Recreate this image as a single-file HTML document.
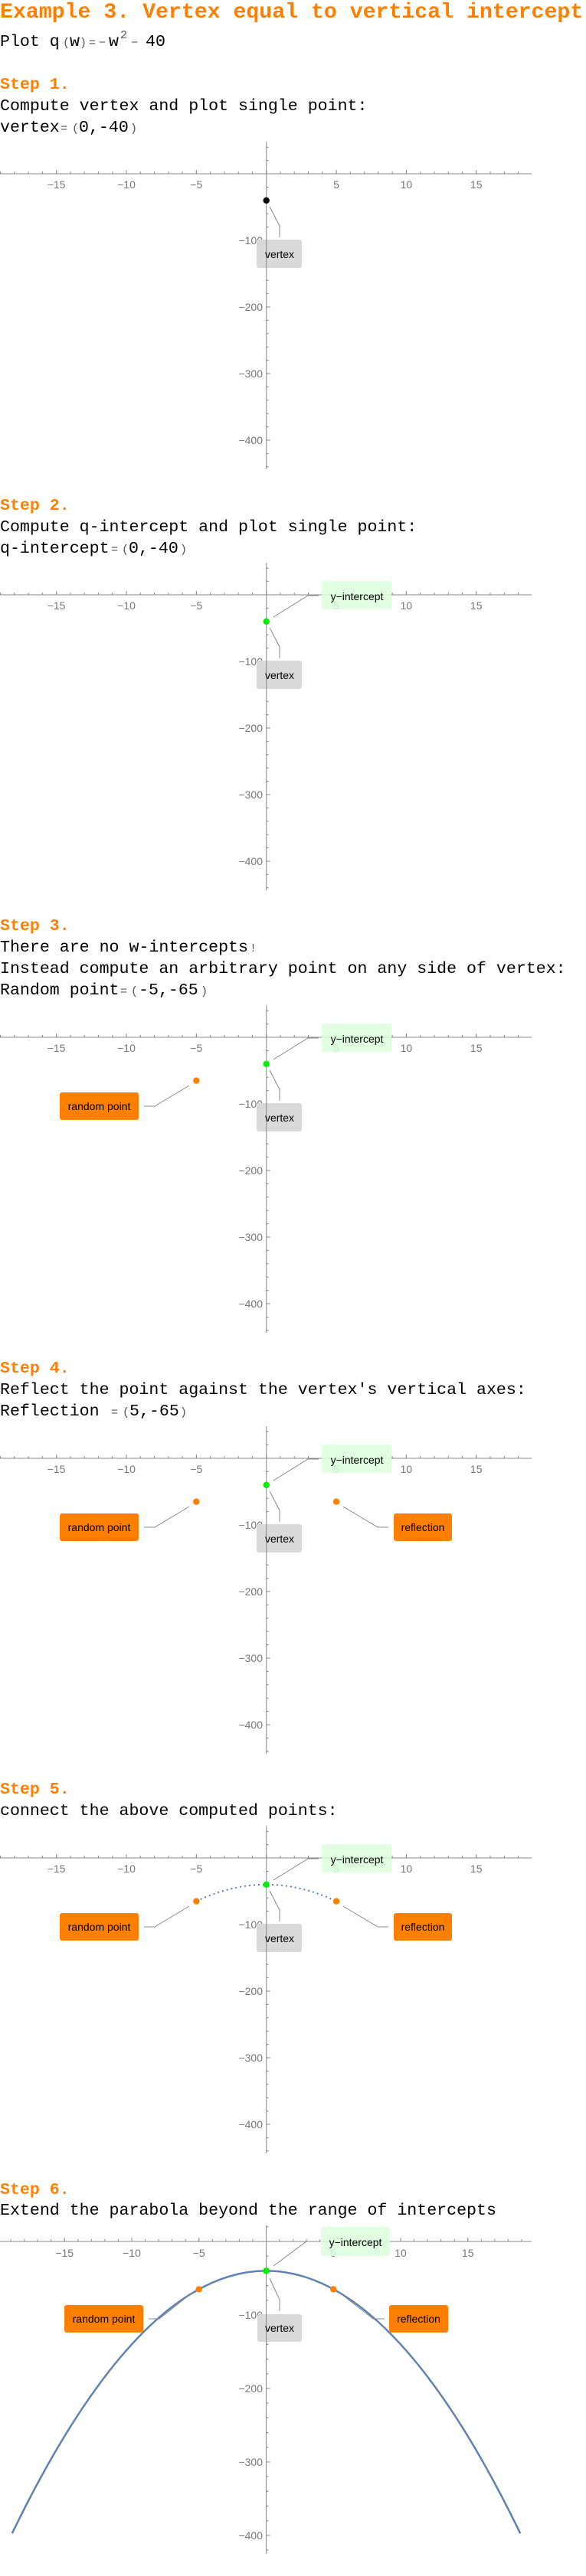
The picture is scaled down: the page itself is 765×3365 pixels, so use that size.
<!DOCTYPE html>
<html><head><meta charset="utf-8"><style>
html,body{margin:0;padding:0;background:#fff}
svg{display:block}
.t{font-family:"Liberation Mono",monospace;font-size:21.6px;fill:#000}
.h{font-family:"Liberation Mono",monospace;font-size:21.6px;font-weight:bold;fill:#ff7f00}
.s{font-size:15px;fill:#555}
.ax{stroke:#888;stroke-width:1;fill:none}
.tl{font-family:"Liberation Sans",sans-serif;font-size:14px;fill:#777}
.lb{font-family:"Liberation Sans",sans-serif;font-size:14px;fill:#000;text-anchor:middle}
.ld{stroke:#888;stroke-width:1;fill:none}
</style></head><body>
<svg width="765" height="3365" viewBox="0 0 765 3365" xmlns="http://www.w3.org/2000/svg">
<defs>
<g id="axes1">
<line class="ax" x1="0" y1="0" x2="694" y2="0"/>
<line x1="0.07" y1="-1.5" x2="694" y2="-1.5" stroke="#888" stroke-width="3" stroke-dasharray="1 17.27"/>
<line x1="73.15" y1="-2.5" x2="694" y2="-2.5" stroke="#888" stroke-width="5" stroke-dasharray="1 90.35"/>
<line class="ax" x1="347.7" y1="-42" x2="347.7" y2="386"/>
<line x1="349.2" y1="-35.3" x2="349.2" y2="386" stroke="#888" stroke-width="3" stroke-dasharray="1 16.4"/>
<line x1="350.2" y1="86.5" x2="350.2" y2="386" stroke="#888" stroke-width="5" stroke-dasharray="1 86"/>
</g>
</defs>

<text x="0" y="23" class="h" style="font-size:28.2px">Example 3. Vertex equal to vertical intercept</text>
<text y="60" class="t"><tspan x="0">Plot q</tspan><tspan x="82" class="s">(</tspan><tspan x="91">w</tspan><tspan x="104" class="s">)</tspan><tspan x="116" class="s">=</tspan><tspan x="129" class="s">−</tspan><tspan x="142">w</tspan><tspan x="157" y="50" class="s">2</tspan><tspan x="171" y="60" class="s">−</tspan><tspan x="190" y="60">40</tspan></text>

<!-- Step 1 -->
<text x="0" y="116" class="h">Step 1.</text>
<text x="0" y="144" class="t">Compute vertex and plot single point:</text>
<text y="172" class="t"><tspan x="0">vertex</tspan><tspan x="79" class="s">=</tspan><tspan x="94" class="s">(</tspan><tspan x="103">0,-40</tspan><tspan x="170" class="s">)</tspan></text>

<!-- Step 2 -->
<text x="0" y="666" class="h">Step 2.</text>
<text x="0" y="694" class="t">Compute q-intercept and plot single point:</text>
<text y="722" class="t"><tspan x="0">q-intercept</tspan><tspan x="145" class="s">=</tspan><tspan x="159" class="s">(</tspan><tspan x="168">0,-40</tspan><tspan x="235" class="s">)</tspan></text>

<!-- Step 3 -->
<text x="0" y="1215" class="h">Step 3.</text>
<text y="1243" class="t"><tspan x="0">There are no w-intercepts</tspan><tspan x="326" class="s">!</tspan></text>
<text x="0" y="1271" class="t">Instead compute an arbitrary point on any side of vertex:</text>
<text y="1299" class="t"><tspan x="0">Random point</tspan><tspan x="157" class="s">=</tspan><tspan x="171" class="s">(</tspan><tspan x="181">-5,-65</tspan><tspan x="262" class="s">)</tspan></text>

<!-- Step 4 -->
<text x="0" y="1793" class="h">Step 4.</text>
<text x="0" y="1821" class="t">Reflect the point against the vertex's vertical axes:</text>
<text y="1849" class="t"><tspan x="0">Reflection</tspan><tspan x="145" class="s">=</tspan><tspan x="160" class="s">(</tspan><tspan x="169">5,-65</tspan><tspan x="235" class="s">)</tspan></text>

<!-- Step 5 -->
<text x="0" y="2343" class="h">Step 5.</text>
<text x="0" y="2371" class="t">connect the above computed points:</text>

<!-- Step 6 -->
<text x="0" y="2866" class="h">Step 6.</text>
<text x="0" y="2893" class="t">Extend the parabola beyond the range of intercepts</text>

<!-- PLOT 1 -->
<g transform="translate(0,227)">
<use href="#axes1"/>
<text class="tl" text-anchor="middle" y="19"><tspan x="73.6">−15</tspan><tspan x="165">−10</tspan><tspan x="256.3">−5</tspan><tspan x="439">5</tspan><tspan x="530.4">10</tspan><tspan x="621.7">15</tspan></text>
<text class="tl" text-anchor="end" x="343" y="92">−100</text><text class="tl" text-anchor="end" x="343" y="179">−200</text><text class="tl" text-anchor="end" x="343" y="266">−300</text><text class="tl" text-anchor="end" x="343" y="353">−400</text>
<polyline class="ld" points="352,43 365,68 365,83"/>
<rect x="335" y="86" width="59" height="37" rx="3" fill="#d9d9d9"/>
<line class="ax" x1="347.7" y1="86" x2="347.7" y2="123"/>
<text class="lb" x="365" y="110">vertex</text>
<circle cx="347.7" cy="34.8" r="4.2" fill="#000"/>
</g>

<!-- PLOT 2 -->
<g transform="translate(0,777)">
<use href="#axes1"/>
<text class="tl" text-anchor="middle" y="19"><tspan x="73.6">−15</tspan><tspan x="165">−10</tspan><tspan x="256.3">−5</tspan><tspan x="439">5</tspan><tspan x="530.4">10</tspan><tspan x="621.7">15</tspan></text>
<text class="tl" text-anchor="end" x="343" y="92">−100</text><text class="tl" text-anchor="end" x="343" y="179">−200</text><text class="tl" text-anchor="end" x="343" y="266">−300</text><text class="tl" text-anchor="end" x="343" y="353">−400</text>
<polyline class="ld" points="357,29 402,1 416,1"/>
<rect x="420" y="-18" width="91" height="37" rx="3" fill="#dcffdc" fill-opacity="0.85"/>
<text class="lb" x="466" y="7">y−intercept</text>
<polyline class="ld" points="352,43 365,68 365,83"/>
<rect x="335" y="86" width="59" height="37" rx="3" fill="#d9d9d9"/>
<line class="ax" x1="347.7" y1="86" x2="347.7" y2="123"/>
<text class="lb" x="365" y="110">vertex</text>
<circle cx="347.7" cy="34.8" r="4.2" fill="#00ee00"/>
</g>

<!-- PLOT 3 -->
<g transform="translate(0,1355)">
<use href="#axes1"/>
<text class="tl" text-anchor="middle" y="19"><tspan x="73.6">−15</tspan><tspan x="165">−10</tspan><tspan x="256.3">−5</tspan><tspan x="439">5</tspan><tspan x="530.4">10</tspan><tspan x="621.7">15</tspan></text>
<text class="tl" text-anchor="end" x="343" y="92">−100</text><text class="tl" text-anchor="end" x="343" y="179">−200</text><text class="tl" text-anchor="end" x="343" y="266">−300</text><text class="tl" text-anchor="end" x="343" y="353">−400</text>
<polyline class="ld" points="357,29 402,1 416,1"/>
<rect x="420" y="-18" width="91" height="37" rx="3" fill="#dcffdc" fill-opacity="0.85"/>
<text class="lb" x="466" y="7">y−intercept</text>
<polyline class="ld" points="352,43 365,68 365,83"/>
<rect x="335" y="86" width="59" height="37" rx="3" fill="#d9d9d9"/>
<line class="ax" x1="347.7" y1="86" x2="347.7" y2="123"/>
<text class="lb" x="365" y="110">vertex</text>
<polyline class="ld" points="247,63 202,90 188,90"/>
<rect x="78" y="72" width="103" height="36" rx="3" fill="#ff7f00"/>
<text class="lb" x="129.5" y="95">random point</text>
<circle cx="347.7" cy="34.8" r="4.2" fill="#00ee00"/>
<circle cx="256.3" cy="56.6" r="4.2" fill="#ff7f00"/>
</g>

<!-- PLOT 4 -->
<g transform="translate(0,1905)">
<use href="#axes1"/>
<text class="tl" text-anchor="middle" y="19"><tspan x="73.6">−15</tspan><tspan x="165">−10</tspan><tspan x="256.3">−5</tspan><tspan x="439">5</tspan><tspan x="530.4">10</tspan><tspan x="621.7">15</tspan></text>
<text class="tl" text-anchor="end" x="343" y="92">−100</text><text class="tl" text-anchor="end" x="343" y="179">−200</text><text class="tl" text-anchor="end" x="343" y="266">−300</text><text class="tl" text-anchor="end" x="343" y="353">−400</text>
<polyline class="ld" points="357,29 402,1 416,1"/>
<rect x="420" y="-18" width="91" height="37" rx="3" fill="#dcffdc" fill-opacity="0.85"/>
<text class="lb" x="466" y="7">y−intercept</text>
<polyline class="ld" points="352,43 365,68 365,83"/>
<rect x="335" y="86" width="59" height="37" rx="3" fill="#d9d9d9"/>
<line class="ax" x1="347.7" y1="86" x2="347.7" y2="123"/>
<text class="lb" x="365" y="110">vertex</text>
<polyline class="ld" points="247,63 202,90 188,90"/>
<rect x="78" y="72" width="103" height="36" rx="3" fill="#ff7f00"/>
<text class="lb" x="129.5" y="95">random point</text>
<polyline class="ld" points="448,63 493,90 507,90"/>
<rect x="514" y="72" width="76" height="36" rx="3" fill="#ff7f00"/>
<text class="lb" x="552" y="95">reflection</text>
<circle cx="347.7" cy="34.8" r="4.2" fill="#00ee00"/>
<circle cx="256.3" cy="56.6" r="4.2" fill="#ff7f00"/>
<circle cx="439" cy="56.6" r="4.2" fill="#ff7f00"/>
</g>

<!-- PLOT 5 -->
<g transform="translate(0,2427)">
<use href="#axes1"/>
<text class="tl" text-anchor="middle" y="19"><tspan x="73.6">−15</tspan><tspan x="165">−10</tspan><tspan x="256.3">−5</tspan><tspan x="439">5</tspan><tspan x="530.4">10</tspan><tspan x="621.7">15</tspan></text>
<text class="tl" text-anchor="end" x="343" y="92">−100</text><text class="tl" text-anchor="end" x="343" y="179">−200</text><text class="tl" text-anchor="end" x="343" y="266">−300</text><text class="tl" text-anchor="end" x="343" y="353">−400</text>
<path d="M256.3 56.6 Q347.7 13 439 56.6" fill="none" stroke="#5b7fbf" stroke-width="2" stroke-dasharray="2 4"/>
<polyline class="ld" points="357,29 402,1 416,1"/>
<rect x="420" y="-18" width="91" height="37" rx="3" fill="#dcffdc" fill-opacity="0.85"/>
<text class="lb" x="466" y="7">y−intercept</text>
<polyline class="ld" points="352,43 365,68 365,83"/>
<rect x="335" y="86" width="59" height="37" rx="3" fill="#d9d9d9"/>
<line class="ax" x1="347.7" y1="86" x2="347.7" y2="123"/>
<text class="lb" x="365" y="110">vertex</text>
<polyline class="ld" points="247,63 202,90 188,90"/>
<rect x="78" y="72" width="103" height="36" rx="3" fill="#ff7f00"/>
<text class="lb" x="129.5" y="95">random point</text>
<polyline class="ld" points="448,63 493,90 507,90"/>
<rect x="514" y="72" width="76" height="36" rx="3" fill="#ff7f00"/>
<text class="lb" x="552" y="95">reflection</text>
<circle cx="347.7" cy="34.8" r="4.2" fill="#00ee00"/>
<circle cx="256.3" cy="56.6" r="4.2" fill="#ff7f00"/>
<circle cx="439" cy="56.6" r="4.2" fill="#ff7f00"/>
</g>

<!-- PLOT 6 -->
<g transform="translate(0,2928)">
<line class="ax" x1="0" y1="0" x2="694" y2="0"/>
<line x1="13.55" y1="-1.5" x2="694" y2="-1.5" stroke="#888" stroke-width="3" stroke-dasharray="1 16.55"/>
<line x1="83.75" y1="-2.5" x2="694" y2="-2.5" stroke="#888" stroke-width="5" stroke-dasharray="1 86.75"/>
<line class="ax" x1="347.5" y1="-21" x2="347.5" y2="408"/>
<line x1="349" y1="-19.7" x2="349" y2="408" stroke="#888" stroke-width="3" stroke-dasharray="1 18.2"/>
<line x1="350" y1="95.5" x2="350" y2="408" stroke="#888" stroke-width="5" stroke-dasharray="1 95"/>
<text class="tl" text-anchor="middle" y="20"><tspan x="84.2">−15</tspan><tspan x="172">−10</tspan><tspan x="259.7">−5</tspan><tspan x="435.2">5</tspan><tspan x="523">10</tspan><tspan x="610.7">15</tspan></text>
<text class="tl" text-anchor="end" x="343" y="101">−100</text><text class="tl" text-anchor="end" x="343" y="197">−200</text><text class="tl" text-anchor="end" x="343" y="293">−300</text><text class="tl" text-anchor="end" x="343" y="389">−400</text>
<path d="M15.8 381.3 Q347.5 -304.5 679.2 381.3" fill="none" stroke="#5e81b5" stroke-width="2.5"/>
<polyline class="ld" points="357,32 400,0 415,0"/>
<rect x="419" y="-19" width="90" height="38" rx="3" fill="#dcffdc" fill-opacity="0.85"/>
<text class="lb" x="464" y="6">y−intercept</text>
<polyline class="ld" points="352,48 365,76 365,91"/>
<rect x="336" y="95" width="58" height="36" rx="3" fill="#d9d9d9"/>
<line class="ax" x1="347.5" y1="95" x2="347.5" y2="131"/>
<text class="lb" x="365" y="118">vertex</text>
<polyline class="ld" points="252,66 208,101 194,101"/>
<rect x="84" y="83" width="103" height="36" rx="3" fill="#ff7f00"/>
<text class="lb" x="135.5" y="106">random point</text>
<polyline class="ld" points="442,66 487,101 502,101"/>
<rect x="508" y="83" width="77" height="36" rx="3" fill="#ff7f00"/>
<text class="lb" x="546.5" y="106">reflection</text>
<circle cx="347.5" cy="38.4" r="4.2" fill="#00ee00"/>
<circle cx="259.7" cy="62.4" r="4.2" fill="#ff7f00"/>
<circle cx="435.2" cy="62.4" r="4.2" fill="#ff7f00"/>
</g>
</svg>
</body></html>
